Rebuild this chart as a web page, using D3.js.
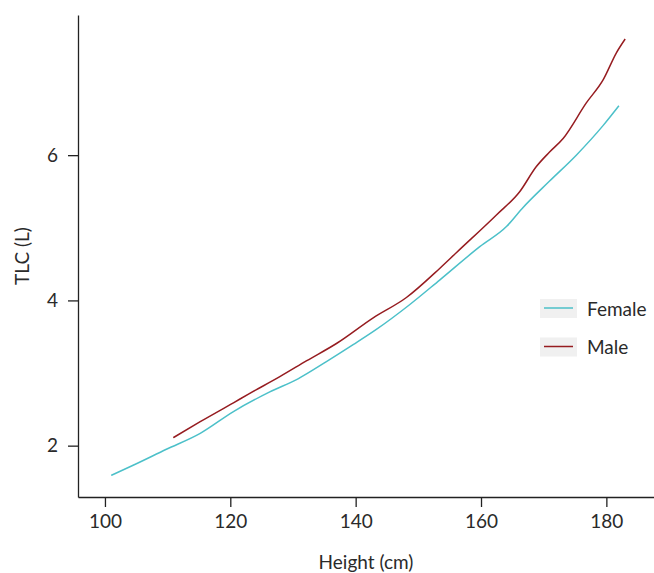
<!DOCTYPE html>
<html>
<head>
<meta charset="utf-8">
<script src="https://cdn.jsdelivr.net/npm/d3@7"></script>
<style>
  body { margin: 0; background: #fff; }
  svg text { font-family: Lato, "Noto Sans", sans-serif; fill: #2a2a2a; }
  .axis path, .axis line { stroke: #222; stroke-width: 1.3; }
</style>
</head>
<body>
<div id="chart"></div>
<script>
// values
const femaleHeight = [101.0, 104.5, 109.8, 115.2, 120.5, 126.3, 130.8, 135.4, 139.6, 143.3, 148.6, 153.4, 159.8, 164.1, 166.5, 170.9, 175.2, 179.5, 182.0];
const femaleTLC    = [1.59, 1.73, 1.95, 2.17, 2.47, 2.74, 2.92, 3.16, 3.39, 3.60, 3.94, 4.28, 4.74, 5.02, 5.26, 5.64, 6.00, 6.41, 6.68];
const maleHeight = [110.9, 115.2, 120.5, 122.9, 127.9, 132.2, 137.0, 142.8, 148.1, 153.4, 156.1, 162.5, 166.2, 168.8, 170.9, 173.1, 176.8, 179.5, 181.6, 183.0];
const maleTLC    = [2.11, 2.33, 2.59, 2.71, 2.95, 3.17, 3.41, 3.76, 4.04, 4.44, 4.66, 5.18, 5.50, 5.84, 6.04, 6.23, 6.72, 7.04, 7.41, 7.60];
const xTicks = [100, 120, 140, 160, 180];
const yTicks = [2, 4, 6];
const seriesNames = ["Female", "Male"];
const seriesColors = ["#4cc0c9", "#961c20"];

const width = 654, height = 573;
const margin = {top: 15, right: 0, bottom: 76, left: 78};
const fontSize = "19px";

const svg = d3.select("#chart").append("svg")
    .attr("width", width)
    .attr("height", height);

const x = d3.scaleLinear()
    .domain([95.7, 187.6])
    .range([margin.left, width - margin.right]);
const y = d3.scaleLinear()
    .domain([1.293, 7.93])
    .range([height - margin.bottom, margin.top]);

const xAxis = svg.append("g")
    .attr("class", "axis")
    .attr("transform", `translate(0,${height - margin.bottom})`)
    .call(d3.axisBottom(x).tickValues(xTicks).tickSize(10).tickPadding(8).tickSizeOuter(0));
xAxis.selectAll("text").style("font-size", fontSize);

const yAxis = svg.append("g")
    .attr("class", "axis")
    .attr("transform", `translate(${margin.left},0)`)
    .call(d3.axisLeft(y).tickValues(yTicks).tickFormat(d3.format("d")).tickSize(10).tickPadding(10).tickSizeOuter(0));
yAxis.selectAll("text").style("font-size", fontSize);

svg.append("text")
    .attr("x", (margin.left + width - margin.right) / 2)
    .attr("y", 569)
    .attr("text-anchor", "middle")
    .style("font-size", fontSize)
    .text("Height (cm)");

svg.append("text")
    .attr("transform", `translate(29,${(margin.top + height - margin.bottom) / 2}) rotate(-90)`)
    .attr("text-anchor", "middle")
    .style("font-size", fontSize)
    .text("TLC (L)");

const series = [
    {name: seriesNames[0], color: seriesColors[0], pts: d3.zip(femaleHeight, femaleTLC)},
    {name: seriesNames[1], color: seriesColors[1], pts: d3.zip(maleHeight, maleTLC)}
];

const line = d3.line()
    .curve(d3.curveMonotoneX)
    .x(d => x(d[0]))
    .y(d => y(d[1]));

svg.append("g").selectAll("path")
    .data(series)
    .enter().append("path")
    .attr("fill", "none")
    .attr("stroke", d => d.color)
    .attr("stroke-width", 1.5)
    .attr("d", d => line(d.pts));

// legend
const legend = svg.append("g").attr("transform", "translate(540,299)");
const item = legend.selectAll("g")
    .data(series)
    .enter().append("g")
    .attr("transform", (d, i) => `translate(0,${i * 38.5})`);
item.append("rect")
    .attr("width", 37).attr("height", 19)
    .attr("fill", "#f0f0f0");
item.append("line")
    .attr("x1", 4).attr("x2", 33)
    .attr("y1", 9).attr("y2", 9)
    .attr("stroke", d => d.color)
    .attr("stroke-width", 1.5);
item.append("text")
    .attr("x", 47).attr("y", 10)
    .attr("dy", "0.35em")
    .style("font-size", fontSize)
    .text(d => d.name);
</script>
</body>
</html>
